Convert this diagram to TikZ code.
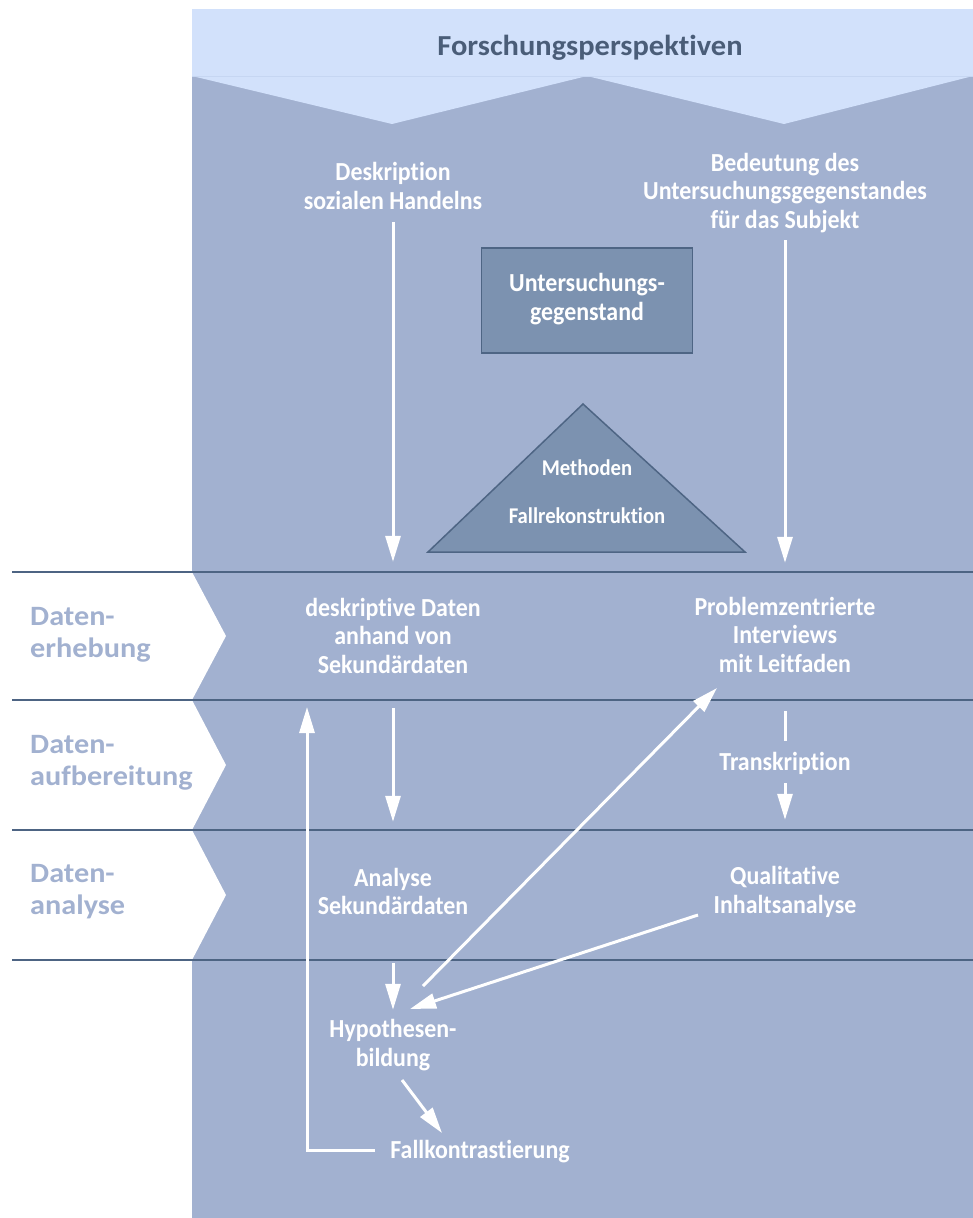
\documentclass[tikz,border=0pt]{standalone}
\usepackage{fontspec}
\newfontfamily\mfont{Carlito}[FakeStretch=0.92, Ligatures=NoCommon]
\newfontfamily\hfont{Carlito}[FakeStretch=1.05, Ligatures=NoCommon]
\newfontfamily\lfont{Carlito}[FakeStretch=1.08, Ligatures=NoCommon]
\usetikzlibrary{arrows.meta}
\definecolor{panel}{HTML}{A2B1D0}
\definecolor{headlt}{HTML}{D2E1FB}
\definecolor{headedge}{HTML}{C6D6F2}
\definecolor{headtx}{HTML}{4A5D78}
\definecolor{bandln}{HTML}{4D6483}
\definecolor{boxfill}{HTML}{7C92B0}
\definecolor{boxline}{HTML}{4E6584}
\begin{document}
\begin{tikzpicture}[x=1pt,y=-1pt,
  txt/.style={text=white, align=center, inner sep=0pt, font=\mfont\bfseries\fontsize{26}{28.5}\selectfont},
  tritxt/.style={txt, font=\mfont\bfseries\fontsize{22.5}{25}\selectfont},
  lab/.style={text=panel, align=left, anchor=west, inner sep=0pt, font=\lfont\bfseries\fontsize{28}{32.5}\selectfont},
  arr/.style={draw=white, line width=3pt, -{Triangle[length=26pt,width=15pt]}},
  ln/.style={draw=white, line width=3pt},
  band/.style={draw=bandln, line width=2pt},
]
\useasboundingbox (0,0) rectangle (973,1218);
% panel and header
\fill[panel] (192,9) rectangle (973,1218);
\fill[headlt] (192,9) -- (973,9) -- (973,76) -- (784,124) -- (587,76) -- (392,124) -- (192,76) -- cycle;
\draw[headedge, line width=1pt] (192,76) -- (973,76);
\node[text=headtx, inner sep=0pt, font=\hfont\bfseries\fontsize{29}{34}\selectfont] (head) at (590,48.2) {\strut Forschungsperspektiven};
% chevrons
\fill[white] (192,572) -- (226,636) -- (192,700) -- cycle;
\fill[white] (192,700) -- (226,765) -- (192,830) -- cycle;
\fill[white] (192,830) -- (226,895) -- (192,960) -- cycle;
% band lines
\foreach \yy in {572,700,830,960} \draw[band] (12,\yy) -- (973,\yy);
% left labels
\node[lab] (erh) at (30,635) {\strut Daten-\\\strut erhebung};
\node[lab] (aufb) at (30,763) {\strut Daten-\\\strut aufbereitung};
\node[lab] (anal) at (30,892) {\strut Daten-\\\strut analyse};
% central box and triangle
\node[txt, draw=boxline, fill=boxfill, line width=1.5pt, minimum width=211pt, minimum height=105pt] (ug) at (587,300.5) {\strut Untersuchungs-\\\strut gegenstand};
\draw[boxline, fill=boxfill, line width=1.5pt] (583,404) -- (745,552) -- (428,552) -- cycle;
\node[tritxt] (meth) at (587,470) {\strut Methoden};
\node[tritxt] (frek) at (587,518) {\strut Fallrekonstruktion};
% text nodes
\node[txt] (desk) at (393,189.5) {\strut Deskription\\\strut sozialen Handelns};
\node[txt] (bed) at (785,193.8) {\strut Bedeutung des\\\strut Untersuchungsgegenstandes\\\strut für das Subjekt};
\node[txt] (deskd) at (393,638.8) {\strut deskriptive Daten\\\strut anhand von\\\strut Sekundärdaten};
\node[txt] (prob) at (785,637.8) {\strut Problemzentrierte\\\strut Interviews\\\strut mit Leitfaden};
\node[txt] (trans) at (785,764.3) {\strut Transkription};
\node[txt] (ana) at (393,895) {\strut Analyse\\\strut Sekundärdaten};
\node[txt] (qual) at (785,893.5) {\strut Qualitative\\\strut Inhaltsanalyse};
\node[txt] (hyp) at (393,1046.5) {\strut Hypothesen-\\\strut bildung};
\node[txt] (fall) at (480,1152.3) {\strut Fallkontrastierung};
% connectors
\draw[arr, shorten <=4pt, shorten >=34pt] (desk.south) -- (deskd.north);
\draw[arr, shorten <=3.5pt, shorten >=32pt] (bed.south) -- (prob.north);
\draw[arr, shorten <=26.5pt, shorten >=44.5pt] (deskd.south) -- (ana.north);
\draw[ln, shorten <=30.5pt, shorten >=9pt] (prob.south) -- (trans.north);
\draw[arr, shorten <=4.5pt, shorten >=45pt] (trans.south) -- (qual.north);
\draw[arr, shorten <=39.5pt, shorten >=8pt] (ana.south) -- (hyp.north);
\draw[arr] ([shift={(30,-60.5)}]hyp.center) -- ([shift={(-68,50.2)}]prob.center);
\draw[arr] ([shift={(-87,21.5)}]qual.center) -- ([shift={(17,-37.5)}]hyp.center);
\draw[arr] ([shift={(9,33.5)}]hyp.center) -- ([shift={(-38,-19.3)}]fall.center);
\draw[arr] ([shift={(-105,-2.3)}]fall.center) -| ([shift={(-86,68.2)}]deskd.center);
\end{tikzpicture}
\end{document}
